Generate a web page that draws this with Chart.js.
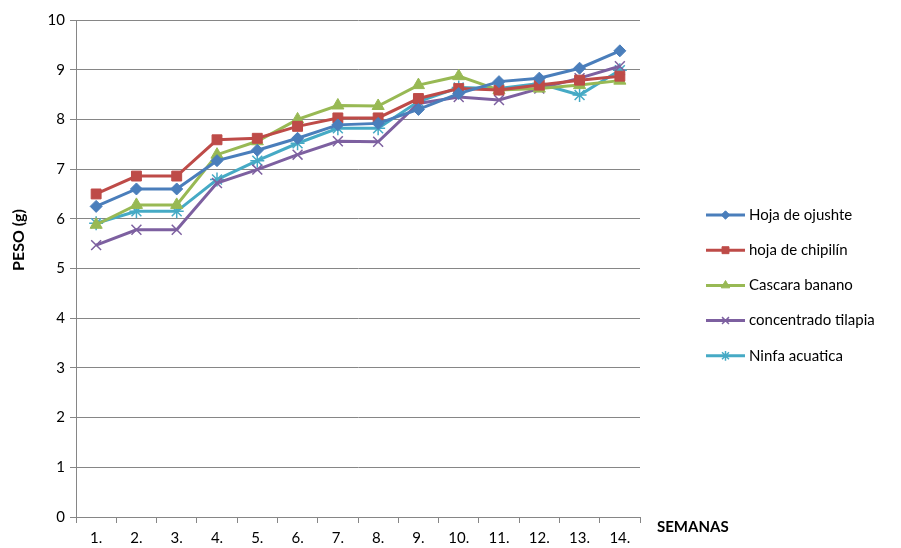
<!DOCTYPE html>
<html><head><meta charset="utf-8">
<script src="https://cdn.jsdelivr.net/npm/chart.js@4/dist/chart.umd.min.js"></script>
<style>html,body{margin:0;padding:0;background:#fff}#wrap{width:901px;height:548px;position:relative}</style>
</head><body><div id="wrap"><canvas id="c" width="901" height="548"></canvas></div>
<script>
const categories = ["1.","2.","3.","4.","5.","6.","7.","8.","9.","10.","11.","12.","13.","14."];
const ojushte    = [6.25,6.6,6.6,7.17,7.38,7.62,7.89,7.92,8.2,8.52,8.76,8.83,9.03,9.38];
const chipilin   = [6.5,6.86,6.86,7.59,7.62,7.86,8.03,8.03,8.42,8.62,8.59,8.69,8.79,8.87];
const cascara    = [5.88,6.28,6.28,7.29,7.56,8.0,8.28,8.27,8.69,8.87,8.59,8.62,8.69,8.78];
const concentrado= [5.47,5.78,5.78,6.72,6.99,7.29,7.56,7.55,8.32,8.45,8.39,8.62,8.83,9.07];
const ninfa      = [5.91,6.15,6.15,6.79,7.17,7.52,7.82,7.82,8.36,8.64,8.62,8.72,8.49,8.99];
const seriesNames = ["Hoja de ojushte","hoja de chipilín","Cascara banano","concentrado tilapia","Ninfa acuatica"];
const yTicks = [0,1,2,3,4,5,6,7,8,9,10];
const yTitle = "PESO (g)";
const xTitle = "SEMANAS";

const FONT = "Lato, 'Open Sans', sans-serif";
const colors = ["#4a7ebb","#be4b48","#98b954","#7d60a0","#46aac5"];
const styles = ["rectRot","rect","triangle","crossRot","star"];
const radii = [6,7,7,7,7];
const data = [ojushte,chipilin,cascara,concentrado,ninfa];

const datasets = data.map((d,i)=>({
  label: seriesNames[i], data: d,
  borderColor: colors[i], backgroundColor: colors[i],
  borderWidth: 3, pointStyle: styles[i], pointRadius: radii[i],
  pointBorderWidth: (styles[i]==="crossRot"||styles[i]==="star")?1.5:1,
  pointHoverRadius: radii[i], tension: 0
}));

const legendPlugin = {
  id:'customLegend',
  afterDraw(chart){
    const ctx = chart.ctx;
    ctx.save();
    const x0 = 706, x1 = 745, tx = 749;
    datasets.forEach((ds,i)=>{
      const y = 215 + i*35.2;
      ctx.strokeStyle = ds.borderColor; ctx.lineWidth = 3;
      ctx.beginPath(); ctx.moveTo(x0,y); ctx.lineTo(x1,y); ctx.stroke();
      ctx.fillStyle = ds.backgroundColor; ctx.strokeStyle = ds.borderColor; ctx.lineWidth = ds.pointBorderWidth;
      Chart.helpers.drawPoint(ctx,{pointStyle:ds.pointStyle, radius:ds.pointRadius*0.7, borderWidth:ds.pointBorderWidth}, (x0+x1)/2, y);
      ctx.fillStyle = "#000"; ctx.font = "15px "+FONT; ctx.textBaseline="middle"; ctx.textAlign="left";
      ctx.fillText(ds.label, tx, y);
    });
    ctx.font = "bold 15px "+FONT; ctx.textAlign="left"; ctx.textBaseline="middle";
    ctx.fillText(xTitle, 657, 527);
    ctx.translate(19, 240); ctx.rotate(-Math.PI/2);
    ctx.font = "bold 16px "+FONT; ctx.textAlign="center";
    ctx.fillText(yTitle, 0, 0);
    ctx.restore();
  }
};

new Chart(document.getElementById('c'),{
  type:'line',
  data:{labels:categories, datasets},
  plugins:[legendPlugin],
  options:{
    responsive:false, animation:false,
    layout:{padding:{top:20,right:261,left:0,bottom:0}},
    plugins:{legend:{display:false}, tooltip:{enabled:false}},
    scales:{
      x:{
        offset:true,
        grid:{offset:true, drawOnChartArea:false, drawTicks:true, tickLength:6, color:"#868686"},
        border:{color:"#868686", width:1},
        ticks:{color:"#000", font:{size:15, family:FONT}, padding:6, maxRotation:0, autoSkip:false},
        afterFit(s){ s.height = 31; }
      },
      y:{
        min:0, max:10,
        afterBuildTicks(s){ s.ticks = yTicks.map(v=>({value:v})); },
        grid:{color:"#868686", tickLength:6, lineWidth:1},
        border:{color:"#868686", width:1},
        ticks:{color:"#000", font:{size:15, family:FONT}, padding:5},
        afterFit(s){ s.width = 76; }
      }
    }
  }
});
</script></body></html>
